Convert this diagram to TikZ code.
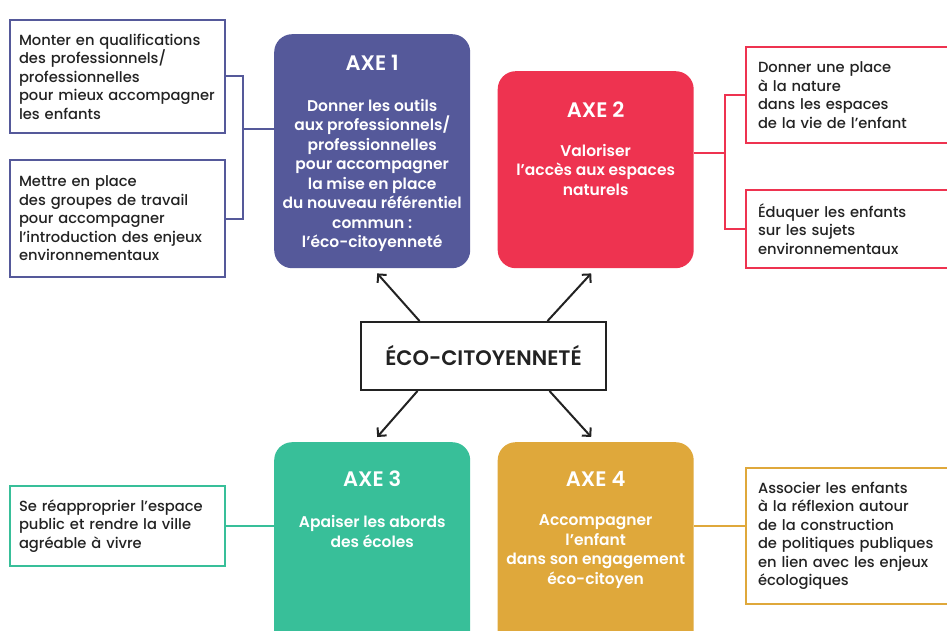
\documentclass[tikz,border=0pt]{standalone}
\usepackage{fontspec}
\IfFontExistsTF{Poppins Medium}
  {\setmainfont{Poppins Medium}[BoldFont={Poppins SemiBold}]}
  {\setmainfont{Poppins}}
\usepackage{tikz}
\usetikzlibrary{arrows.meta,positioning,calc}
\usepackage{xcolor}
\definecolor{axpurple}{RGB}{85,89,154}
\definecolor{axred}{RGB}{238,51,80}
\definecolor{axgreen}{RGB}{56,191,153}
\definecolor{axgold}{RGB}{223,168,59}
\definecolor{inkgray}{RGB}{34,34,34}
\tikzstyle{arrow} = [line width=2pt,-{Straight Barb[length=6pt,width=12pt,line width=2pt]},color=inkgray]
\tikzstyle{axebox} = [rectangle, rounded corners=18pt, minimum width=196pt, anchor=north west, inner sep=0pt]
\tikzstyle{axetitle} = [text=white, font=\fontsize{21}{25}\selectfont\bfseries, inner sep=0pt]
\tikzstyle{axebody} = [text=white, align=center, font=\fontsize{15.5}{19.5}\selectfont\bfseries, inner sep=0pt]
\tikzstyle{actionbox} = [rectangle, draw, line width=2pt, anchor=north west, inner xsep=9pt, inner ysep=0pt, text width=197pt, align=left, text=inkgray, font=\fontsize{14.7}{18.5}\selectfont]
\tikzstyle{link} = [line width=2pt]
\tikzstyle{themebox} = [rectangle, draw=inkgray, line width=2pt, minimum width=245pt, minimum height=68pt, text=inkgray, font=\fontsize{21}{25}\selectfont\bfseries]

\begin{document}
\begin{tikzpicture}[x=1pt,y=-1pt]
\useasboundingbox (0,0) rectangle (947,631);
\clip (0,0) rectangle (947,631);

% Axes
\node[axebox, fill=axpurple, minimum height=234pt] (a1) at (274,34) {};
\node[axebox, fill=axred, minimum height=197pt] (a2) at (497.5,71) {};
\node[axebox, fill=axgreen, minimum height=230pt] (a3) at (274,442) {};
\node[axebox, fill=axgold, minimum height=230pt] (a4) at (497.5,442) {};

\node[axetitle, below=21pt of a1.north] (t1) {AXE 1};
\node[axebody, below=28pt of t1] (b1) {Donner les outils\\aux professionnels/\\professionnelles\\pour accompagner\\la mise en place\\du nouveau référentiel\\commun :\\l’éco-citoyenneté};
\node[axetitle, below=31pt of a2.north] (t2) {AXE 2};
\node[axebody, below=26pt of t2] (b2) {Valoriser\\l’accès aux espaces\\naturels};
\node[axetitle, below=29pt of a3.north] (t3) {AXE 3};
\node[axebody, below=28pt of t3] (b3) {Apaiser les abords\\des écoles};
\node[axetitle, below=29pt of a4.north] (t4) {AXE 4};
\node[axebody, below=28pt of t4] (b4) {Accompagner\\l’enfant\\dans son engagement\\éco-citoyen};

% Centre
\node[themebox] (c) at (483.5,356) {ÉCO-CITOYENNETÉ};

% Actions
\node[actionbox, draw=axpurple, minimum height=113pt] (l1) at (9,19) {Monter en qualifications\\des professionnels/\\professionnelles\\\mbox{pour mieux accompagner}\\les enfants};
\node[actionbox, draw=axpurple, minimum height=117pt] (l2) at (9,159) {Mettre en place\\des groupes de travail\\pour accompagner\\l’introduction des enjeux\\environnementaux};
\node[actionbox, draw=axred, minimum height=96pt, inner xsep=12pt, text width=191pt] (r1) at (745,46) {Donner une place\\à la nature\\dans les espaces\\de la vie de l’enfant};
\node[actionbox, draw=axred, minimum height=78pt, inner xsep=12pt, text width=191pt] (r2) at (745,189) {Éduquer les enfants\\sur les sujets\\environnementaux};
\node[actionbox, draw=axgreen, minimum height=80pt] (g1) at (9,485) {Se réapproprier l’espace\\public et rendre la ville\\agréable à vivre};
\node[actionbox, draw=axgold, minimum height=136pt, inner xsep=12pt, text width=191pt] (o1) at (745,467) {Associer les enfants\\à la réflexion autour\\de la construction\\de politiques publiques\\en lien avec les enjeux\\écologiques};

% Links
\coordinate (j1) at (243,129);
\coordinate (j2) at (725,153);
\draw[link, axpurple] (l1.east) -| (j1) |- (l2.east);
\draw[link, axpurple] (j1) -- (j1 -| a1.west);
\draw[link, axred] (r1.west) -| (j2) |- (r2.west);
\draw[link, axred] (a2.east |- j2) -- (j2);
\draw[link, axgreen] (g1.east) -- (a3.west |- g1.east);
\draw[link, axgold] (a4.east |- g1.east) -- (o1.west |- g1.east);

% Arrows
\draw[arrow] ([xshift=-64pt]c.north) -- ([xshift=5pt,yshift=-5pt]a1.south);
\draw[arrow] ([xshift=64pt]c.north) -- ([xshift=-4.5pt,yshift=-5pt]a2.south);
\draw[arrow] ([xshift=-66pt]c.south) -- ([xshift=5pt,yshift=5pt]a3.north);
\draw[arrow] ([xshift=66pt]c.south) -- ([xshift=-4.5pt,yshift=5pt]a4.north);
\end{tikzpicture}
\end{document}
